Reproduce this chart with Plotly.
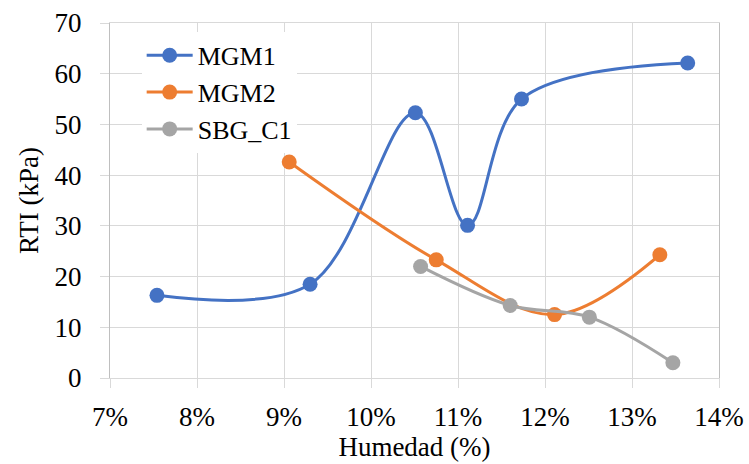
import plotly.graph_objects as go

# Moisture content (fraction) and RTI (kPa) per material
mgm1_x = [0.0754, 0.0930, 0.1051, 0.1111, 0.1173, 0.1364]
mgm1_y = [16.3, 18.5, 52.3, 30.1, 55.0, 62.1]

mgm2_x = [0.0906, 0.1075, 0.1211, 0.1332]
mgm2_y = [42.6, 23.3, 12.5, 24.3]

sbg_x = [0.1057, 0.1160, 0.1251, 0.1347]
sbg_y = [22.0, 14.3, 12.0, 3.0]

x_ticks = [0.07, 0.08, 0.09, 0.10, 0.11, 0.12, 0.13, 0.14]
y_ticks = [0, 10, 20, 30, 40, 50, 60, 70]

FONT = "'Times New Roman', 'Liberation Serif', Tinos, 'DejaVu Serif', serif"
GRID = "#d9d9d9"

series = [
    ("MGM1", mgm1_x, mgm1_y, "#4472C4"),
    ("MGM2", mgm2_x, mgm2_y, "#ED7D31"),
    ("SBG_C1", sbg_x, sbg_y, "#A5A5A5"),
]

fig = go.Figure()
for name, xs, ys, color in series:
    fig.add_trace(go.Scatter(
        x=xs, y=ys, name=name, mode="lines+markers",
        line=dict(color=color, width=3, shape="spline", smoothing=1.0),
        marker=dict(color=color, size=15),
    ))

fig.update_layout(
    width=749, height=464,
    margin=dict(l=110, r=30, t=23, b=86),
    paper_bgcolor="white", plot_bgcolor="white",
    font=dict(family=FONT, size=27, color="black"),
    showlegend=True,
    legend=dict(
        x=0.052, y=0.975, xanchor="left", yanchor="top",
        bgcolor="white", borderwidth=0,
        font=dict(family=FONT, size=26, color="black"),
        tracegroupgap=0, itemwidth=46,
    ),
    xaxis=dict(
        range=[0.07, 0.14], tickvals=x_ticks, tickformat=".0%",
        tickfont=dict(family=FONT, size=27), ticklabelstandoff=5,
        showgrid=True, gridcolor=GRID, gridwidth=1.3,
        showline=True, linecolor=GRID, linewidth=1.3, mirror=True,
        ticks="outside", ticklen=9, tickcolor=GRID, tickwidth=1.3,
        zeroline=False, automargin=False,
        title=dict(text="Humedad (%)", font=dict(family=FONT, size=27), standoff=6),
    ),
    yaxis=dict(
        range=[0, 70], tickvals=y_ticks,
        tickfont=dict(family=FONT, size=27), ticklabelstandoff=13,
        showgrid=True, gridcolor=GRID, gridwidth=1.3,
        showline=True, linecolor="#bfbfbf", linewidth=1.3, mirror=True,
        ticks="outside", ticklen=9, tickcolor=GRID, tickwidth=1.3,
        zeroline=False, automargin=False,
        title=dict(text="RTI (kPa)", font=dict(family=FONT, size=27), standoff=8),
    ),
)

fig.write_html("out.html")
